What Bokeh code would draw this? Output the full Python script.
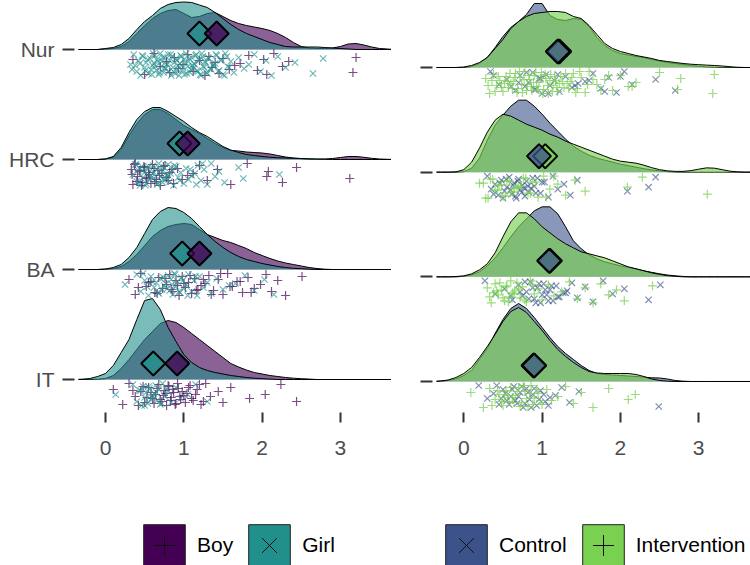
from bokeh.plotting import figure
from bokeh.models import Range1d, FixedTicker, Legend, LegendItem
from bokeh.layouts import row, column
from bokeh.embed import file_html
from bokeh.resources import INLINE

# ---------------- data ----------------
ROWS = ["Nur", "HRC", "BA", "IT"]
X_TICKS = [0, 1, 2, 3]
GRID_X = [-0.4, -0.3, -0.2, -0.1, 0.0, 0.1, 0.2, 0.3, 0.4, 0.5,
          0.6, 0.7, 0.8, 0.9, 1.0, 1.1, 1.2, 1.3, 1.4, 1.5,
          1.6, 1.7, 1.8, 1.9, 2.0, 2.1, 2.2, 2.3, 2.4, 2.5,
          2.6, 2.7, 2.8, 2.9, 3.0, 3.1, 3.2, 3.3, 3.4, 3.5,
          3.6, 3.7]

# densities on GRID_X
BOY_DENS_NUR = [0, 0, 0, 0, 0.01, 0.02, 0.06, 0.16, 0.32, 0.48,
                0.62, 0.72, 0.78, 0.80, 0.72, 0.64, 0.66, 0.72, 0.74, 0.66,
                0.58, 0.52, 0.48, 0.45, 0.42, 0.38, 0.32, 0.24, 0.14, 0.06,
                0.03, 0.02, 0.02, 0.03, 0.06, 0.11, 0.12, 0.09, 0.05, 0.02,
                0.01, 0]
GIRL_DENS_NUR = [0, 0, 0, 0, 0.02, 0.04, 0.10, 0.22, 0.40, 0.56,
                 0.68, 0.82, 0.90, 0.94, 0.95, 0.94, 0.89, 0.84, 0.74, 0.62,
                 0.50, 0.40, 0.32, 0.26, 0.20, 0.14, 0.10, 0.06, 0.05, 0.05,
                 0.05, 0.05, 0.04, 0.03, 0.02, 0.01, 0, 0, 0, 0,
                 0, 0]
BOY_DENS_HRC = [0, 0, 0, 0, 0.01, 0.05, 0.20, 0.48, 0.72, 0.90,
                1.00, 1.00, 0.92, 0.80, 0.68, 0.60, 0.52, 0.42, 0.32, 0.24,
                0.18, 0.17, 0.15, 0.14, 0.13, 0.11, 0.08, 0.05, 0.03, 0.016,
                0.008, 0.006, 0.01, 0.02, 0.04, 0.06, 0.06, 0.044, 0.024, 0.01,
                0.004, 0]
GIRL_DENS_HRC = [0, 0, 0, 0, 0.01, 0.06, 0.24, 0.54, 0.80, 0.96,
                 1.04, 1.04, 0.96, 0.86, 0.76, 0.64, 0.54, 0.46, 0.36, 0.26,
                 0.19, 0.14, 0.10, 0.08, 0.06, 0.045, 0.035, 0.03, 0.025, 0.02,
                 0.015, 0.01, 0.005, 0, 0, 0, 0, 0, 0, 0,
                 0, 0]
BOY_DENS_BA = [0, 0, 0, 0, 0.006, 0.02, 0.06, 0.16, 0.30, 0.48,
               0.66, 0.78, 0.86, 0.90, 0.92, 0.90, 0.80, 0.70, 0.64, 0.58,
               0.54, 0.48, 0.42, 0.34, 0.28, 0.22, 0.17, 0.13, 0.10, 0.07,
               0.04, 0.02, 0.006, 0, 0, 0, 0, 0, 0, 0,
               0, 0]
GIRL_DENS_BA = [0, 0, 0, 0, 0.01, 0.04, 0.10, 0.24, 0.44, 0.72,
                1.00, 1.16, 1.24, 1.22, 1.14, 1.02, 0.86, 0.70, 0.56, 0.44,
                0.34, 0.26, 0.20, 0.16, 0.12, 0.09, 0.06, 0.04, 0.024, 0.016,
                0.006, 0, 0, 0, 0, 0, 0, 0, 0, 0,
                0, 0]
BOY_DENS_IT = [0, 0, 0, 0.006, 0.02, 0.08, 0.22, 0.40, 0.60, 0.80,
               0.96, 1.12, 1.18, 1.14, 1.04, 0.92, 0.80, 0.68, 0.56, 0.44,
               0.32, 0.25, 0.19, 0.14, 0.11, 0.08, 0.06, 0.04, 0.026, 0.016,
               0.008, 0, 0, 0, 0, 0, 0, 0, 0, 0,
               0, 0]
GIRL_DENS_IT = [0, 0.006, 0.02, 0.06, 0.12, 0.28, 0.54, 0.80, 1.20, 1.58,
                1.62, 1.40, 1.04, 0.76, 0.50, 0.34, 0.24, 0.18, 0.14, 0.11,
                0.08, 0.06, 0.04, 0.026, 0.016, 0.008, 0, 0, 0, 0,
                0, 0, 0, 0, 0, 0, 0, 0, 0, 0,
                0, 0]

CTRL_DENS_NUR = [0, 0, 0, 0, 0, 0.02, 0.08, 0.20, 0.40, 0.62,
                 0.80, 0.92, 1.06, 1.28, 1.28, 1.04, 0.96, 0.94, 0.98, 0.96,
                 0.82, 0.60, 0.44, 0.34, 0.28, 0.25, 0.22, 0.20, 0.16, 0.13,
                 0.10, 0.08, 0.06, 0.04, 0.024, 0.012, 0.006, 0, 0, 0,
                 0, 0]
INT_DENS_NUR = [0, 0, 0, 0, 0.01, 0.04, 0.10, 0.20, 0.38, 0.56,
                0.78, 0.92, 1.02, 1.08, 1.10, 1.12, 1.12, 1.10, 1.02, 0.98,
                0.84, 0.66, 0.48, 0.38, 0.32, 0.28, 0.24, 0.21, 0.18, 0.14,
                0.12, 0.10, 0.08, 0.066, 0.056, 0.048, 0.04, 0.03, 0.016, 0.004,
                0, 0]
CTRL_DENS_HRC = [0, 0, 0, 0, 0.01, 0.08, 0.28, 0.64, 0.94, 1.14,
                 1.32, 1.44, 1.44, 1.32, 1.16, 0.98, 0.82, 0.66, 0.52, 0.42,
                 0.34, 0.28, 0.24, 0.20, 0.16, 0.13, 0.10, 0.07, 0.044, 0.026,
                 0.012, 0.004, 0, 0, 0, 0, 0, 0, 0, 0,
                 0, 0]
INT_DENS_HRC = [0, 0, 0, 0.006, 0.05, 0.20, 0.48, 0.80, 1.04, 1.16,
                1.12, 1.04, 0.96, 0.90, 0.84, 0.76, 0.70, 0.62, 0.56, 0.50,
                0.44, 0.38, 0.32, 0.26, 0.22, 0.20, 0.18, 0.14, 0.09, 0.05,
                0.026, 0.016, 0.016, 0.03, 0.06, 0.086, 0.08, 0.05, 0.02, 0.006,
                0, 0]
CTRL_DENS_BA = [0, 0, 0, 0, 0.01, 0.04, 0.10, 0.22, 0.38, 0.58,
                0.80, 1.00, 1.16, 1.32, 1.40, 1.40, 1.26, 1.00, 0.72, 0.56,
                0.44, 0.36, 0.30, 0.26, 0.22, 0.19, 0.16, 0.12, 0.09, 0.06,
                0.036, 0.02, 0.008, 0, 0, 0, 0, 0, 0, 0,
                0, 0]
INT_DENS_BA = [0, 0, 0, 0.006, 0.02, 0.06, 0.14, 0.26, 0.48, 0.80,
               1.10, 1.28, 1.28, 1.16, 1.00, 0.88, 0.76, 0.66, 0.58, 0.50,
               0.46, 0.42, 0.38, 0.32, 0.26, 0.20, 0.16, 0.12, 0.08, 0.05,
               0.024, 0.01, 0, 0, 0, 0, 0, 0, 0, 0,
               0, 0]
CTRL_DENS_IT = [0, 0.006, 0.02, 0.05, 0.12, 0.22, 0.44, 0.66, 0.96, 1.24,
                1.46, 1.56, 1.46, 1.28, 1.08, 0.88, 0.70, 0.56, 0.44, 0.32,
                0.22, 0.16, 0.14, 0.13, 0.12, 0.11, 0.10, 0.086, 0.074, 0.07,
                0.05, 0.02, 0.006, 0, 0, 0, 0, 0, 0, 0,
                0, 0]
INT_DENS_IT = [0, 0.01, 0.03, 0.08, 0.16, 0.28, 0.48, 0.70, 0.94, 1.20,
               1.40, 1.48, 1.38, 1.20, 1.02, 0.82, 0.64, 0.50, 0.38, 0.28,
               0.20, 0.17, 0.16, 0.16, 0.16, 0.16, 0.14, 0.10, 0.05, 0.02,
               0.006, 0, 0, 0, 0, 0, 0, 0, 0, 0,
               0, 0]

# individual observations
BOY_PTS_NUR = [0.35, 0.5, 0.62, 0.7, 0.78, 0.82, 0.88, 0.93, 0.99, 1.05, 1.12, 1.2,
               1.27, 1.32, 1.36, 1.4, 1.45, 1.5, 1.58, 1.65, 1.72, 1.83, 1.94, 2.02,
               2.06, 2.15, 2.26, 2.34, 3.16, 3.2]
GIRL_PTS_NUR = [0.32, 0.36, 0.4, 0.42, 0.45, 0.48, 0.5, 0.52, 0.55, 0.57, 0.58, 0.6,
                0.62, 0.63, 0.65, 0.66, 0.68, 0.7, 0.71, 0.72, 0.74, 0.75, 0.77, 0.78,
                0.8, 0.81, 0.82, 0.84, 0.85, 0.86, 0.88, 0.89, 0.9, 0.92, 0.93, 0.95,
                0.96, 0.98, 1.0, 1.01, 1.03, 1.05, 1.06, 1.08, 1.1, 1.12, 1.14, 1.16,
                1.18, 1.2, 1.22, 1.24, 1.26, 1.28, 1.3, 1.32, 1.35, 1.37, 1.4, 1.42,
                1.45, 1.48, 1.5, 1.53, 1.56, 1.6, 1.64, 1.7, 1.77, 1.83, 1.9, 1.98,
                2.05, 2.12, 2.2, 2.3, 2.42, 2.65, 2.78,
                0.34, 0.38, 0.44, 0.47, 0.51, 0.54, 0.59, 0.61, 0.64, 0.67, 0.69, 0.73,
                0.76, 0.79, 0.83, 0.87, 0.91, 0.94, 0.97, 0.99, 1.02, 1.04, 1.07, 1.09,
                1.11, 1.13, 1.15, 1.17, 1.19, 1.21, 1.23, 1.25, 1.27, 1.29, 1.31, 1.34,
                1.38, 1.41, 1.44, 1.47, 1.52, 1.55, 1.58]
BOY_PTS_HRC = [0.33, 0.35, 0.38, 0.41, 0.44, 0.47, 0.5, 0.53, 0.56, 0.6, 0.63, 0.67,
               0.7, 0.74, 0.78, 0.82, 0.87, 0.92, 0.98, 1.05, 1.12, 1.2, 1.3, 1.43,
               1.6, 1.81, 2.06, 2.08, 2.26, 2.44, 3.12,
               0.34, 0.37, 0.4, 0.43, 0.46, 0.49, 0.52, 0.55, 0.58, 0.62, 0.65, 0.69,
               0.72, 0.76, 0.8, 0.85]
GIRL_PTS_HRC = [0.35, 0.38, 0.4, 0.42, 0.44, 0.46, 0.48, 0.5, 0.52, 0.54, 0.56, 0.58,
                0.6, 0.61, 0.63, 0.65, 0.66, 0.68, 0.7, 0.72, 0.73, 0.75, 0.77, 0.79,
                0.8, 0.82, 0.85, 0.87, 0.9, 0.93, 0.96, 1.0, 1.03, 1.06, 1.1, 1.14,
                1.18, 1.22, 1.26, 1.3, 1.35, 1.4, 1.45, 1.52, 1.7, 1.76, 2.22,
                0.39, 0.43, 0.47, 0.51, 0.55, 0.59, 0.62, 0.67, 0.71, 0.74, 0.78, 0.83,
                0.88, 0.95, 1.08, 1.16, 1.24]
BOY_PTS_BA = [0.3, 0.38, 0.45, 0.52, 0.58, 0.63, 0.68, 0.73, 0.78, 0.82, 0.86, 0.9,
              0.94, 0.98, 1.02, 1.06, 1.1, 1.14, 1.18, 1.22, 1.27, 1.32, 1.38, 1.44,
              1.5, 1.56, 1.62, 1.68, 1.75, 1.82, 1.9, 1.98, 2.05, 2.12, 2.2, 2.3, 2.51,
              0.42, 0.55, 0.66, 0.76, 0.84, 0.92, 1.0, 1.08, 1.16, 1.25, 1.35, 1.47,
              1.59, 1.72, 1.86]
GIRL_PTS_BA = [0.25, 0.4, 0.45, 0.5, 0.55, 0.58, 0.62, 0.65, 0.68, 0.7, 0.72, 0.75,
               0.77, 0.8, 0.82, 0.84, 0.86, 0.88, 0.9, 0.92, 0.95, 0.97, 1.0, 1.03,
               1.06, 1.1, 1.13, 1.17, 1.2, 1.25, 1.3, 1.35, 1.42, 1.5, 1.58, 1.66,
               1.78, 1.9, 2.03, 2.15,
               0.48, 0.53, 0.6, 0.67, 0.74, 0.79, 0.85, 0.89, 0.94, 0.99, 1.05, 1.15]
BOY_PTS_IT = [0.1, 0.22, 0.3, 0.38, 0.45, 0.5, 0.55, 0.6, 0.64, 0.68, 0.72, 0.75,
              0.78, 0.81, 0.84, 0.87, 0.9, 0.93, 0.96, 1.0, 1.04, 1.08, 1.12, 1.17,
              1.22, 1.28, 1.34, 1.44, 1.5, 1.6, 1.84, 2.04, 2.24, 2.44,
              0.35, 0.42, 0.48, 0.53, 0.58, 0.62, 0.66, 0.7, 0.74, 0.77, 0.8, 0.83,
              0.86, 0.89, 0.92, 0.95, 0.98, 1.02, 1.06, 1.1, 1.15, 1.2, 1.25]
GIRL_PTS_IT = [0.13, 0.35, 0.4, 0.43, 0.46, 0.48, 0.5, 0.52, 0.54, 0.56, 0.58, 0.6,
               0.62, 0.64, 0.66, 0.68, 0.7, 0.73, 0.76, 0.8, 0.84, 0.9, 0.96, 1.05,
               1.15, 1.3, 0.45, 0.5, 0.55, 0.6, 0.65, 0.72, 0.78]

CTRL_PTS_NUR = [0.34, 0.45, 0.55, 0.66, 0.72, 0.78, 0.83, 0.88, 0.92, 0.96, 1.0, 1.05,
                1.1, 1.16, 1.22, 1.3, 1.38, 1.46, 1.55, 1.65, 1.75, 1.85, 1.95, 2.05,
                2.15, 2.45, 2.7,
                0.38, 0.6, 0.7, 0.8, 0.9, 0.98, 1.08, 1.2, 1.42, 1.6, 1.8, 2.0]
INT_PTS_NUR = [0.28, 0.33, 0.38, 0.42, 0.46, 0.5, 0.54, 0.57, 0.6, 0.63, 0.66, 0.69,
               0.72, 0.75, 0.78, 0.81, 0.84, 0.87, 0.9, 0.93, 0.96, 0.99, 1.02, 1.05,
               1.08, 1.11, 1.14, 1.17, 1.2, 1.24, 1.28, 1.32, 1.36, 1.4, 1.45, 1.5,
               1.55, 1.6, 1.7, 1.8, 1.9, 2.0, 2.1, 2.2, 2.5, 2.73, 2.77, 3.18, 3.2,
               0.31, 0.36, 0.4, 0.44, 0.48, 0.52, 0.56, 0.59, 0.62, 0.65, 0.68, 0.71,
               0.74, 0.77, 0.8, 0.83, 0.86, 0.89, 0.92, 0.95, 0.98, 1.01, 1.04, 1.07,
               1.1, 1.13, 1.16, 1.19, 1.22, 1.26, 1.3, 1.34, 1.38, 1.43, 1.48, 1.58,
               1.65, 1.75, 1.85, 2.15]
CTRL_PTS_HRC = [0.3, 0.35, 0.4, 0.44, 0.48, 0.52, 0.55, 0.58, 0.61, 0.64, 0.67, 0.7,
                0.72, 0.75, 0.78, 0.8, 0.83, 0.86, 0.9, 0.94, 0.98, 1.03, 1.08, 1.14,
                1.2, 1.28, 1.36, 1.45, 2.09, 2.36, 2.45,
                0.38, 0.46, 0.5, 0.54, 0.6, 0.63, 0.66, 0.69, 0.74, 0.77, 0.82, 0.88,
                0.92, 1.0]
INT_PTS_HRC = [0.2, 0.28, 0.34, 0.4, 0.45, 0.5, 0.55, 0.6, 0.65, 0.7, 0.76, 0.82,
               0.88, 0.95, 1.02, 1.1, 1.2, 1.3, 1.42, 1.55, 2.09, 2.28, 3.11,
               0.25, 0.31, 0.37, 0.43, 0.48, 0.53, 0.58, 0.63, 0.68, 0.73, 0.79, 0.85,
               0.92, 1.05, 1.15]
CTRL_PTS_BA = [0.27, 0.4, 0.52, 0.62, 0.7, 0.75, 0.8, 0.85, 0.9, 0.94, 0.98, 1.02,
               1.06, 1.1, 1.14, 1.18, 1.22, 1.27, 1.32, 1.38, 1.45, 1.55, 1.65, 1.78,
               1.9, 2.05, 2.36, 2.51,
               0.6, 0.72, 0.78, 0.83, 0.88, 0.92, 0.96, 1.0, 1.04, 1.08, 1.12, 1.2, 1.3]
INT_PTS_BA = [0.3, 0.35, 0.4, 0.44, 0.48, 0.52, 0.55, 0.58, 0.62, 0.65, 0.68, 0.72,
              0.75, 0.8, 0.85, 0.9, 0.95, 1.0, 1.08, 1.15, 1.25, 1.35, 1.45, 1.55,
              1.65, 1.75, 1.85, 1.95, 2.05, 2.41,
              0.33, 0.38, 0.42, 0.46, 0.5, 0.54, 0.57, 0.6, 0.64, 0.7, 0.78, 0.88]
CTRL_PTS_IT = [0.19, 0.3, 0.38, 0.45, 0.5, 0.55, 0.6, 0.64, 0.68, 0.72, 0.76, 0.8,
               0.84, 0.88, 0.93, 0.98, 1.04, 1.1, 1.17, 1.25, 1.35, 1.47, 2.49,
               0.42, 0.48, 0.53, 0.58, 0.62, 0.66, 0.7, 0.74, 0.78, 0.82, 0.86, 0.9,
               0.96, 1.02, 1.08]
INT_PTS_IT = [0.09, 0.25, 0.33, 0.4, 0.45, 0.5, 0.54, 0.58, 0.62, 0.66, 0.7, 0.74,
              0.78, 0.82, 0.86, 0.9, 0.95, 1.0, 1.06, 1.12, 1.2, 1.3, 1.4, 1.5,
              1.65, 1.85, 2.1, 2.19,
              0.36, 0.43, 0.48, 0.52, 0.56, 0.6, 0.64, 0.68, 0.72, 0.76, 0.8, 0.84,
              0.88, 0.93, 0.98]

# group means (diamonds), in ROWS order
BOY_MEAN = [1.42, 1.05, 1.20, 0.915]
GIRL_MEAN = [1.20, 0.945, 0.98, 0.61]
CTRL_MEAN = [1.20, 0.96, 1.09, 0.90]
INT_MEAN = [1.22, 1.04, 1.10, 0.89]

# ---------------- styling / layout constants ----------------
FONT = "Liberation Sans"
C_BOY, C_GIRL = "#440154", "#21908C"
C_CTRL, C_INT = "#3B528B", "#7AD151"
PX_PER_DENSITY = 50
JITTER_PX = [14, 6, 21, 10, 25, 4, 17, 12, 23, 8, 19, 15, 5, 22, 11, 26, 7, 18, 13, 24, 9, 20, 16]
DIAMOND_PX = 16
ROW_Y = {"Nur": 3, "HRC": 2, "BA": 1, "IT": 0}
PLOT_H = 470
FRAME_H = 412
LEG_H = 95


def make_fig(width, min_left, x_range, y_range, labels):
    p = figure(width=width, height=PLOT_H, x_range=x_range, y_range=y_range,
               output_backend="svg", toolbar_location=None,
               min_border_left=min_left, min_border_right=0,
               min_border_top=0, min_border_bottom=PLOT_H - FRAME_H)
    p.outline_line_color = None
    p.grid.visible = False
    p.background_fill_color = "white"
    p.border_fill_color = "white"
    xa = p.xaxis[0]
    xa.ticker = FixedTicker(ticks=X_TICKS)
    xa.axis_line_color = None
    xa.major_tick_line_color = "#333333"
    xa.major_tick_line_width = 2
    xa.major_tick_in = 0
    xa.major_tick_out = 10
    xa.minor_tick_line_color = None
    xa.major_label_text_font = FONT
    xa.major_label_text_font_size = "21px"
    xa.major_label_text_color = "#4D4D4D"
    xa.major_label_standoff = 18
    ya = p.yaxis[0]
    ya.ticker = FixedTicker(ticks=[ROW_Y[r] for r in ROWS])
    ya.major_label_overrides = {ROW_Y[r]: (r if labels else "") for r in ROWS}
    ya.axis_line_color = None
    ya.major_tick_line_color = "#333333"
    ya.major_tick_line_width = 2
    ya.major_tick_in = -4
    ya.major_tick_out = 16
    ya.minor_tick_line_color = None
    ya.major_label_text_font = FONT
    ya.major_label_text_font_size = "21px"
    ya.major_label_text_color = "#4D4D4D"
    ya.major_label_standoff = 8
    return p


def draw_density(p, row_px, dens, color, alpha):
    for r, d in zip(ROWS, dens):
        base = ROW_Y[r]
        top = [base + v * PX_PER_DENSITY / row_px for v in d]
        p.varea(x=GRID_X, y1=[base] * len(GRID_X), y2=top,
                fill_color=color, fill_alpha=alpha)
        p.line(x=GRID_X, y=top, line_color="black", line_width=1)


def draw_points(p, row_px, pts, color, marker, phase, alpha):
    n = len(JITTER_PX)
    for r, xs in zip(ROWS, pts):
        base = ROW_Y[r]
        ys = [base - JITTER_PX[(i + phase) % n] / row_px for i in range(len(xs))]
        p.scatter(x=xs, y=ys, marker=marker, size=9, line_color=color,
                  line_alpha=alpha, line_width=1.2)


def draw_means(p, row_px, means, color):
    ys = [ROW_Y[r] + DIAMOND_PX / row_px for r in ROWS]
    p.scatter(x=means, y=ys, marker="square", angle=0.7853981634, size=17,
              fill_color=color, fill_alpha=0.75, line_color="black", line_width=2)


def legend_fig(width, entries, x_off):
    # a key-only panel: its swatch renderers sit outside the visible range
    f = figure(width=width, height=LEG_H, x_range=Range1d(0, 1), y_range=Range1d(0, 1),
               output_backend="svg", toolbar_location=None,
               x_axis_location=None, y_axis_location=None,
               min_border_left=0, min_border_right=0, min_border_top=0, min_border_bottom=0)
    f.outline_line_color = None
    f.grid.visible = False
    f.background_fill_color = "white"
    f.border_fill_color = "white"
    items = []
    for label, color, marker in entries:
        q = f.quad(left=[-3], right=[-2], top=[-2], bottom=[-3], fill_color=color,
                   fill_alpha=1, line_color="#222222", line_width=1)
        s = f.scatter(x=[-3], y=[-3], marker=marker, line_color="#111111", line_width=1)
        items.append(LegendItem(label=label, renderers=[q, s]))
    lg = Legend(items=items, orientation="horizontal", location=(x_off, -6),
                glyph_width=52, glyph_height=52, label_standoff=7, spacing=10,
                padding=0, margin=0, border_line_color=None,
                background_fill_alpha=0, label_text_font=FONT,
                label_text_font_size="21px", label_text_color="black")
    f.add_layout(lg)
    return f


# ---------------- left panel: Boy / Girl ----------------
LEFT_ROW_PX = 110.0
pl = make_fig(391, 78, Range1d(-0.3448, 3.6526), Range1d(-0.3, 3.4455), True)
draw_density(pl, LEFT_ROW_PX, [BOY_DENS_NUR, BOY_DENS_HRC, BOY_DENS_BA, BOY_DENS_IT], C_BOY, 0.62)
draw_density(pl, LEFT_ROW_PX, [GIRL_DENS_NUR, GIRL_DENS_HRC, GIRL_DENS_BA, GIRL_DENS_IT], C_GIRL, 0.6)
draw_points(pl, LEFT_ROW_PX, [BOY_PTS_NUR, BOY_PTS_HRC, BOY_PTS_BA, BOY_PTS_IT], C_BOY, "cross", 3, 0.7)
draw_points(pl, LEFT_ROW_PX, [GIRL_PTS_NUR, GIRL_PTS_HRC, GIRL_PTS_BA, GIRL_PTS_IT], C_GIRL, "x", 11, 0.65)
draw_means(pl, LEFT_ROW_PX, GIRL_MEAN, C_GIRL)
draw_means(pl, LEFT_ROW_PX, BOY_MEAN, C_BOY)
ll = legend_fig(391, [("Boy", C_BOY, "cross"), ("Girl", C_GIRL, "x")], 138)

# ---------------- right panel: Control / Intervention ----------------
RIGHT_ROW_PX = 104.67
pr = make_fig(359, 45, Range1d(-0.3487, 3.6616), Range1d(-0.2962, 3.6401), False)
draw_density(pr, RIGHT_ROW_PX, [CTRL_DENS_NUR, CTRL_DENS_HRC, CTRL_DENS_BA, CTRL_DENS_IT], C_CTRL, 0.6)
draw_density(pr, RIGHT_ROW_PX, [INT_DENS_NUR, INT_DENS_HRC, INT_DENS_BA, INT_DENS_IT], C_INT, 0.65)
draw_points(pr, RIGHT_ROW_PX, [CTRL_PTS_NUR, CTRL_PTS_HRC, CTRL_PTS_BA, CTRL_PTS_IT], C_CTRL, "x", 5, 0.65)
draw_points(pr, RIGHT_ROW_PX, [INT_PTS_NUR, INT_PTS_HRC, INT_PTS_BA, INT_PTS_IT], C_INT, "cross", 14, 0.75)
draw_means(pr, RIGHT_ROW_PX, INT_MEAN, C_INT)
draw_means(pr, RIGHT_ROW_PX, CTRL_MEAN, C_CTRL)
lr = legend_fig(359, [("Control", C_CTRL, "x"), ("Intervention", C_INT, "cross")], 49)

layout = column(row(pl, pr), row(ll, lr))
open("out.html", "w").write(file_html(layout, INLINE))
